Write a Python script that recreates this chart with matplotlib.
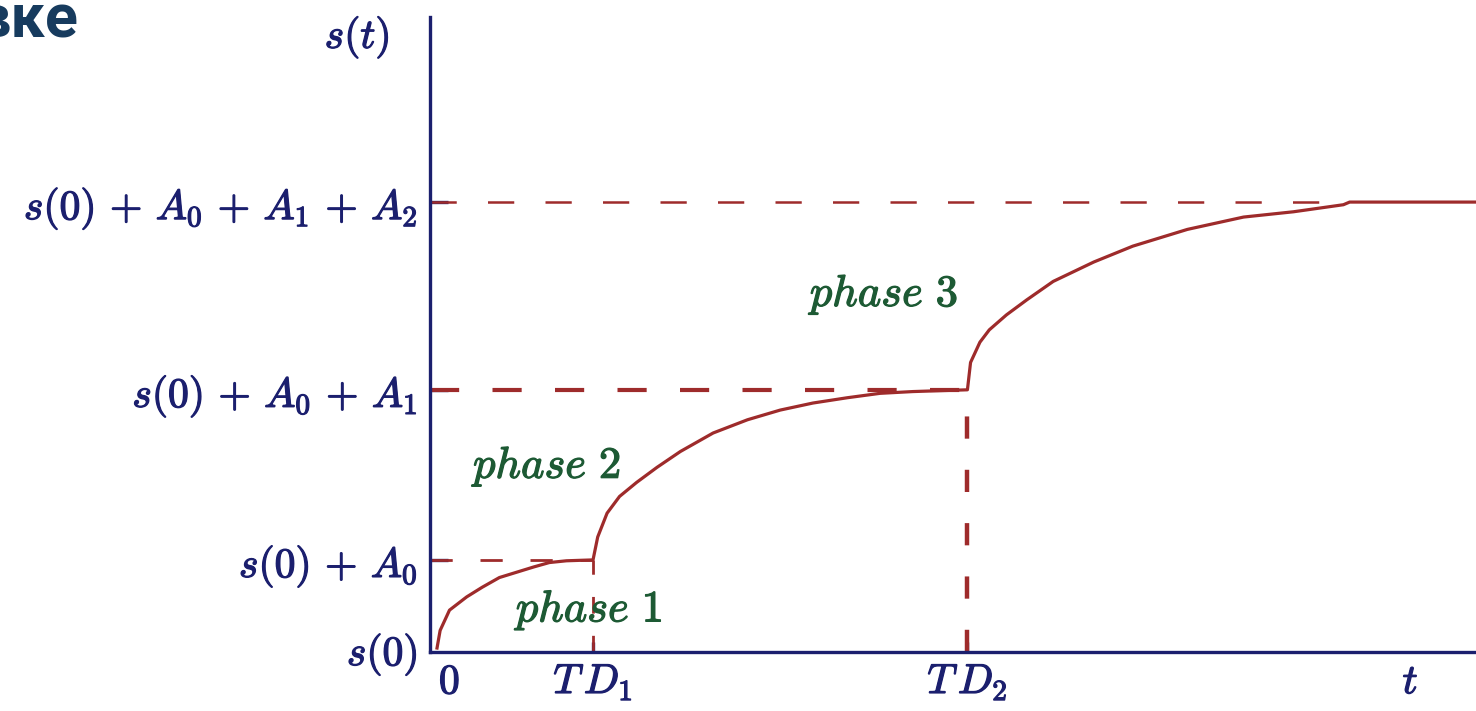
import matplotlib
matplotlib.use("Agg")
import matplotlib.pyplot as plt
import matplotlib.patheffects as pe

plt.rcParams['mathtext.fontset'] = 'cm'

# ---- data ----
TD1 = 1.0
TD2 = 3.40
levels = [0.0, 1.0, 2.93, 5.06]          # s(0), s(0)+A0, s(0)+A0+A1, s(0)+A0+A1+A2
level_labels = [r'$s(0)$', r'$s(0)\,+\,A_0$', r'$s(0)\,+\,A_0\,+\,A_1$',
                r'$s(0)\,+\,A_0\,+\,A_1\,+\,A_2$']

phase1_t = [0.0, 0.02, 0.08, 0.19, 0.29, 0.40, 0.51, 0.62, 0.72, 0.83, 1.0]
phase1_s = [0.0, 0.20, 0.43, 0.58, 0.69, 0.80, 0.86, 0.92, 0.97, 0.99, 1.0]

phase2_t = [1.0, 1.03, 1.09, 1.17, 1.28, 1.41, 1.56, 1.77, 1.99, 2.20, 2.41, 2.63, 2.84, 3.05, 3.40]
phase2_s = [1.0, 1.26, 1.53, 1.72, 1.88, 2.05, 2.23, 2.44, 2.59, 2.70, 2.78, 2.84, 2.89, 2.91, 2.93]

phase3_t = [3.40, 3.42, 3.48, 3.54, 3.65, 3.78, 3.95, 4.21, 4.46, 4.81, 5.17, 5.49, 5.81, 5.85, 6.66]
phase3_s = [2.93, 3.24, 3.47, 3.61, 3.78, 3.95, 4.16, 4.38, 4.56, 4.75, 4.89, 4.95, 5.03, 5.06, 5.06]

x_tick_pos = [0.08, TD1, TD2, 6.24]
x_tick_labels = [r'$0$', r'$T\,D_1$', r'$T\,D_2$', r'$t$']

phase_labels = [r'$phase\ 1$', r'$phase\ 2$', r'$phase\ 3$']
phase_pos = [(0.98, 0.43), (0.71, 2.06), (2.87, 4.01)]

# ---- style ----
navy = '#1b1f6e'
red = '#9e2b2b'
green = '#1d5a34'

W, H = 1476, 711
fig = plt.figure(figsize=(W / 100, H / 100), dpi=100)
ax = fig.add_axes([430 / W, 59 / H, 1 - 430 / W, (652 - 17) / H])
ax.set_xlim(-0.045, 6.66)
ax.set_ylim(-0.045, 7.16)

for sp in ['top', 'right']:
    ax.spines[sp].set_visible(False)
for sp in ['left', 'bottom']:
    ax.spines[sp].set_color(navy)
    ax.spines[sp].set_linewidth(2.4)

# curve
t_all = phase1_t + phase2_t + phase3_t
s_all = phase1_s + phase2_s + phase3_s
ax.plot(t_all, s_all, color=red, lw=2.3, solid_joinstyle='round')

# dashed guide lines
ax.plot([-0.045, TD1], [levels[1]] * 2, color=red, lw=2.0, dashes=(8, 10))
ax.plot([-0.045, TD2], [levels[2]] * 2, color=red, lw=3.0, dashes=(7, 8))
ax.plot([-0.045, 5.85], [levels[3]] * 2, color=red, lw=1.8, dashes=(10.5, 12.5))
ax.plot([TD1, TD1], [-0.045, levels[1]], color=red, lw=2.0, dashes=(6, 8))
ax.plot([TD2, TD2], [-0.045, levels[2]], color=red, lw=3.2, dashes=(5, 7))

# ticks
ax.set_yticks(levels)
ax.set_yticklabels(level_labels)
ax.set_xticks(x_tick_pos)
ax.set_xticklabels(x_tick_labels)
ax.tick_params(axis='y', direction='in', length=13, width=2.4, color=navy,
               labelcolor=navy, labelsize=30, pad=9)
ax.tick_params(axis='x', direction='in', length=7, width=2.4, color=navy,
               labelcolor=navy, labelsize=30, pad=6)
ax.yaxis.get_major_ticks()[0].tick1line.set_visible(False)
xt = ax.xaxis.get_major_ticks()
xt[0].tick1line.set_visible(False)
xt[3].tick1line.set_visible(False)

navy_fx = [pe.withStroke(linewidth=0.9, foreground=navy)]
green_fx = [pe.withStroke(linewidth=0.9, foreground=green)]
for lab in ax.get_yticklabels() + ax.get_xticklabels():
    lab.set_path_effects(navy_fx)

ax.annotate(r'$s(t)$', xy=(0, 6.93), xycoords=('axes fraction', 'data'),
            xytext=(-52.5, 0), textcoords='offset points', ha='center', va='center',
            color=navy, fontsize=30, path_effects=navy_fx)

for lab, (px, py) in zip(phase_labels, phase_pos):
    ax.text(px, py, lab, color=green, fontsize=32, ha='center', va='center',
            path_effects=green_fx)

fig.text(78 / W, 1 - 37 / H, 'вке', fontsize=44, fontweight='bold',
         family=['Roboto', 'DejaVu Sans'], color='#173b5e', ha='right', va='baseline')

fig.savefig('out.png', dpi=100)
